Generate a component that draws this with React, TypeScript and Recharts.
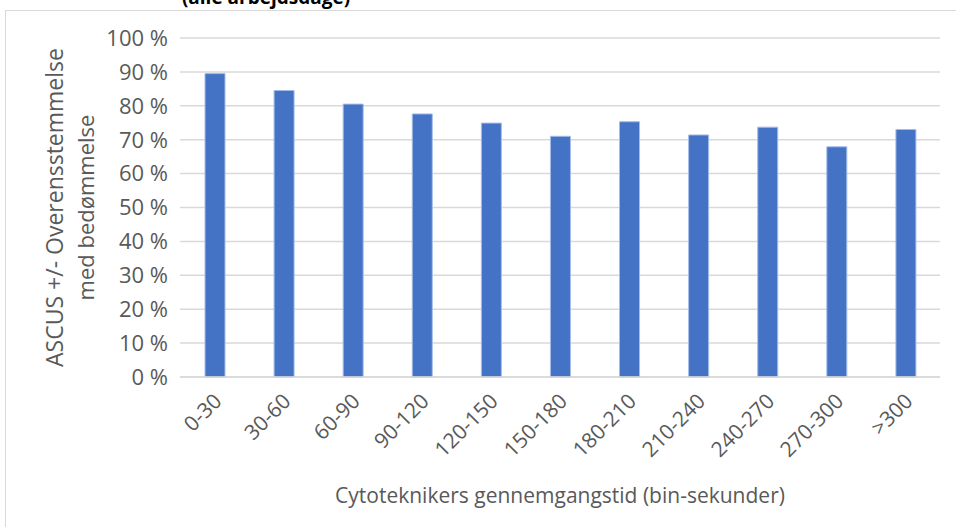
import { BarChart, Bar, XAxis, YAxis, CartesianGrid } from "recharts";

const categories = ["0-30", "30-60", "60-90", "90-120", "120-150", "150-180", "180-210", "210-240", "240-270", "270-300", ">300"];
const agreement = [0.895, 0.845, 0.805, 0.776, 0.749, 0.71, 0.753, 0.714, 0.737, 0.679, 0.73];
const yTicks = [0, 0.1, 0.2, 0.3, 0.4, 0.5, 0.6, 0.7, 0.8, 0.9, 1];

const data = categories.map((bin, i) => ({ bin, value: agreement[i] }));

const FONT = "'Open Sans', sans-serif";
const GRAY = "#595959";

function XTick(props: any) {
  const { x, y, payload } = props;
  const ax = x - 4;
  const ay = y + 5;
  return (
    <text
      x={ax}
      y={ay}
      transform={`rotate(-45, ${ax}, ${ay})`}
      textAnchor="end"
      dominantBaseline="hanging"
      fontSize={21}
      fontFamily={FONT}
      fill={GRAY}
    >
      {payload.value}
    </text>
  );
}

export default function App() {
  return (
    <div style={{ position: "absolute", left: 0, top: 0, width: 956, height: 527, background: "#fff", overflow: "hidden", fontFamily: FONT }}>
      <div style={{ position: "absolute", left: 5, top: 10, width: 960, height: 530, border: "1px solid #d9d9d9" }} />
      <svg style={{ position: "absolute", left: 0, top: 0 }} width={956} height={20}>
        <text x={266} y={4} textAnchor="middle" fontSize={19} fontWeight={700} fontFamily={FONT} fill="#000">
          (alle arbejdsdage)
        </text>
      </svg>
      <div style={{ position: "absolute", left: 0, top: 0 }}>
        <BarChart width={956} height={527} data={data} margin={{ top: 38, right: 16, left: 0, bottom: 0 }}>
          <CartesianGrid vertical={false} stroke="#d9d9d9" strokeWidth={1.5} />
          <XAxis
            dataKey="bin"
            height={150}
            interval={0}
            tick={<XTick />}
            tickLine={false}
            axisLine={{ stroke: "#d9d9d9", strokeWidth: 1.5 }}
            label={{ value: "Cytoteknikers gennemgangstid (bin-sekunder)", position: "insideBottom", offset: 24, fontSize: 21, fill: GRAY, fontFamily: FONT }}
          />
          <YAxis
            width={180}
            domain={[0, 1]}
            ticks={yTicks}
            tickFormatter={(v: number) => `${Math.round(v * 100)} %`}
            tick={{ fontSize: 22, fill: GRAY, fontFamily: FONT }}
            tickLine={false}
            axisLine={false}
            tickMargin={6}
            label={({ viewBox }: any) => {
              const cy = viewBox.y + viewBox.height / 2;
              return (
                <g>
                  <text x={57} y={cy} transform={`rotate(-90, 57, ${cy})`} textAnchor="middle" dominantBaseline="middle" fontSize={23} fill={GRAY} fontFamily={FONT}>
                    ASCUS +/- Overensstemmelse
                  </text>
                  <text x={88} y={cy} transform={`rotate(-90, 88, ${cy})`} textAnchor="middle" dominantBaseline="middle" fontSize={22} fill={GRAY} fontFamily={FONT}>
                    med bedømmelse
                  </text>
                </g>
              );
            }}
          />
          <Bar dataKey="value" fill="#4472C4" stroke="#a4bde8" strokeWidth={1} barSize={20} isAnimationActive={false} />
        </BarChart>
      </div>
    </div>
  );
}
